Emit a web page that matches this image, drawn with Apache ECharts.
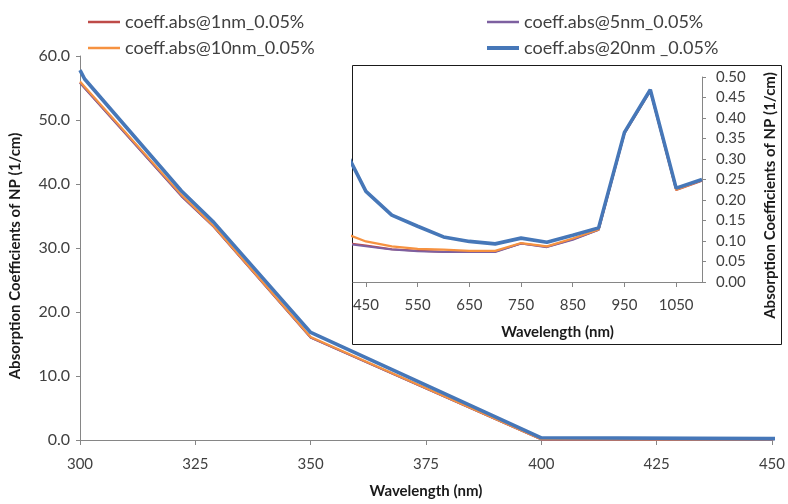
<!DOCTYPE html>
<html>
<head>
<meta charset="utf-8">
<script src="https://cdn.jsdelivr.net/npm/echarts@6/dist/echarts.min.js"></script>
<style>html,body{margin:0;padding:0;background:#fff}#c{width:788px;height:504px}</style>
</head>
<body>
<div id="c"></div>
<script>
// ---- data ----
var wavelengths = [300, 301, 322, 329, 350, 400, 450, 500, 550, 600, 650, 700, 750, 800, 850, 900, 950, 1000, 1050, 1100];
var abs1nm  = [55.8, 55.0, 38.1, 33.3, 16.0, 0.097, 0.089, 0.080, 0.076, 0.074, 0.074, 0.074, 0.094, 0.086, 0.104, 0.127, 0.362, 0.466, 0.224, 0.247];
var abs5nm  = [55.8, 55.0, 38.1, 33.3, 16.0, 0.095, 0.087, 0.079, 0.075, 0.073, 0.073, 0.073, 0.094, 0.085, 0.103, 0.127, 0.363, 0.467, 0.226, 0.248];
var abs10nm = [56.0, 55.2, 38.3, 33.4, 16.1, 0.123, 0.099, 0.087, 0.081, 0.079, 0.076, 0.076, 0.095, 0.087, 0.106, 0.128, 0.363, 0.467, 0.225, 0.248];
var abs20nm = [57.8, 56.4, 38.9, 34.0, 16.8, 0.345, 0.221, 0.163, 0.136, 0.110, 0.099, 0.093, 0.107, 0.097, 0.114, 0.132, 0.365, 0.469, 0.229, 0.250];
var seriesNames = ['coeff.abs@1nm_0.05%', 'coeff.abs@5nm_0.05%', 'coeff.abs@10nm_0.05%', 'coeff.abs@20nm _0.05%'];
var insetTicks = [450, 550, 650, 750, 850, 950, 1050];

function pairs(ys) { return wavelengths.map(function (w, i) { return [w, ys[i]]; }); }

var FONT = 'Lato';
var colors = ['#BE4B48', '#7D60A0', '#F69240', '#4677B8'];
var widths = [2, 2, 2.2, 3.6];
var allData = [abs1nm, abs5nm, abs10nm, abs20nm];

var series = [];
allData.forEach(function (d, i) {
  series.push({
    name: seriesNames[i], type: 'line', xAxisIndex: 0, yAxisIndex: 0,
    data: pairs(d), showSymbol: false, symbol: 'none', z: 1,
    lineStyle: { color: colors[i], width: widths[i] }, itemStyle: { color: colors[i] }
  });
});
allData.forEach(function (d, i) {
  series.push({
    name: seriesNames[i], type: 'line', xAxisIndex: 1, yAxisIndex: 1,
    data: pairs(d), showSymbol: false, symbol: 'none', z: 6,
    lineStyle: { color: colors[i], width: widths[i] }, itemStyle: { color: colors[i] }
  });
});

function mkLegend(name, left, top, h) {
  return {
    data: [{ name: name, icon: 'rect' }], left: left, top: top,
    itemWidth: 32, itemHeight: h, selectedMode: false,
    textStyle: { fontFamily: FONT, fontSize: 18, color: '#404040' }
  };
}

var axisGray = '#868686';
var titleStyle = { fontFamily: FONT, fontSize: 15, fontWeight: 'bold', color: '#1a1a1a' };
function withPad(p) { var o = Object.assign({}, titleStyle); o.padding = p; return o; }

var chart = echarts.init(document.getElementById('c'), null, { renderer: 'canvas' });
chart.setOption({
  animation: false,
  backgroundColor: '#fff',
  legend: [
    mkLegend(seriesNames[0], 83, 8, 2.5),
    mkLegend(seriesNames[2], 83, 34, 2.5),
    mkLegend(seriesNames[1], 482, 8, 2.5),
    mkLegend(seriesNames[3], 482, 34, 4)
  ],
  graphic: [{
    type: 'rect', z: 3,
    shape: { x: 352.5, y: 65.5, width: 429, height: 279 },
    style: { fill: '#fff', stroke: '#1a1a1a', lineWidth: 1 }
  }],
  grid: [
    { left: 80, right: 16, top: 56, bottom: 64 },
    { left: 353, width: 349, top: 77, height: 205, z: 5 }
  ],
  xAxis: [{
    type: 'value', gridIndex: 0, min: 300, max: 450, interval: 25,
    name: 'Wavelength (nm)', nameLocation: 'middle', nameGap: 44,
    nameTextStyle: titleStyle,
    axisLine: { lineStyle: { color: axisGray } },
    axisTick: { show: true, length: 5, lineStyle: { color: axisGray } },
    axisLabel: { margin: 17, fontFamily: FONT, fontSize: 15, color: '#404040' },
    splitLine: { show: false }
  }, {
    type: 'value', gridIndex: 1, min: 425, max: 1100, z: 6,
    name: 'Wavelength (nm)', nameLocation: 'middle', nameGap: 43,
    nameTextStyle: withPad([0, 0, 0, 60]),
    axisLine: { onZero: false, lineStyle: { color: axisGray } },
    axisTick: { show: true, length: 5, customValues: insetTicks, lineStyle: { color: axisGray } },
    axisLabel: { margin: 16, customValues: insetTicks, fontFamily: FONT, fontSize: 15, color: '#404040',
                 formatter: function (v) { return String(v); } },
    splitLine: { show: false }
  }],
  yAxis: [{
    type: 'value', gridIndex: 0, min: 0, max: 60, interval: 10,
    name: 'Absorption Coefficients of NP (1/cm)', nameLocation: 'middle', nameGap: 57, nameRotate: 90,
    nameTextStyle: withPad([0, 16, 0, 0]),
    axisLine: { show: true, lineStyle: { color: axisGray } },
    axisTick: { show: true, length: 4, lineStyle: { color: axisGray } },
    axisLabel: { margin: 10, fontFamily: FONT, fontSize: 16, color: '#404040', formatter: function (v) { return v.toFixed(1); } },
    splitLine: { show: false }
  }, {
    type: 'value', gridIndex: 1, min: 0, max: 0.5, interval: 0.05, position: 'right', z: 6,
    name: 'Absorption Coefficients of NP (1/cm)', nameLocation: 'middle', nameGap: 61, nameRotate: 90,
    nameTextStyle: withPad([0, 32, 0, 0]),
    axisLine: { show: true, lineStyle: { color: axisGray } },
    axisTick: { show: true, length: 4, lineStyle: { color: axisGray } },
    axisLabel: { margin: 14, fontFamily: FONT, fontSize: 15, color: '#404040', formatter: function (v) { return v.toFixed(2); } },
    splitLine: { show: false }
  }],
  series: series
});
</script>
</body>
</html>
